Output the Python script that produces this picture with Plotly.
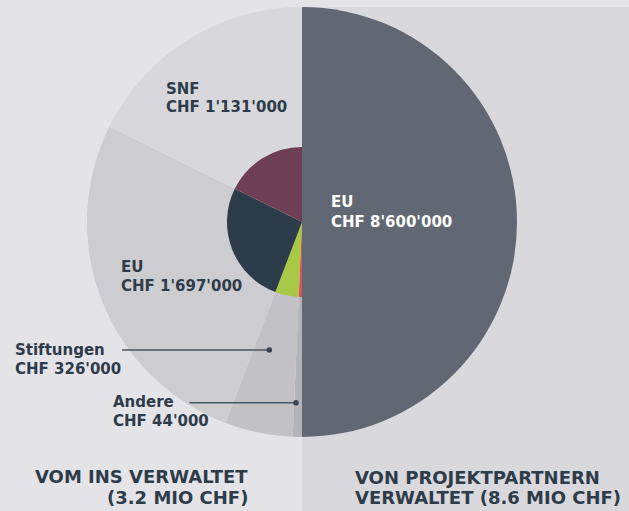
import plotly.graph_objects as go

# ---- data (CHF) ----
left_labels = ["Andere", "Stiftungen", "EU", "SNF"]        # clockwise from 6 o'clock
left_values = [44000, 326000, 1697000, 1131000]
right_label = "EU"
right_value = 8600000
left_title = ["VOM INS VERWALTET", "(3.2 MIO CHF)"]
right_title = ["VON PROJEKTPARTNERN", "VERWALTET (8.6 MIO CHF)"]

outer_colors = ["#b4b3b9", "#c2c1c6", "#cdccd1", "#d8d7dc"]
inner_colors = ["#e0505a", "#a8c946", "#2d3c4b", "#6d3e54"]
right_color = "#626873"
text_color = "#2e3c4a"

W, H = 629, 511
BG_LEFT, BG_RIGHT = "#e4e3e8", "#d9d8dd"
CX, CY, R_OUT, R_IN = 302, 222, 215, 75


def px(x):
    return x / W


def py(y):
    return 1 - y / H


def dom(r):
    return dict(x=[px(CX - r), px(CX + r)], y=[py(CY + r), py(CY - r)])


def chf(v):
    return "CHF " + f"{v:,}".replace(",", "'")


half = sum(left_values)  # each half of the circle shows its own total
vals = [half] + left_values
labs = [right_label] + left_labels

fig = go.Figure()
fig.add_trace(go.Pie(
    values=vals, labels=[f"{l} ({i})" for i, l in enumerate(labs)],
    domain=dom(R_OUT), sort=False, direction="clockwise", rotation=0,
    marker=dict(colors=[right_color] + outer_colors, line=dict(width=0)),
    textinfo="none", hoverinfo="skip", showlegend=False,
))
fig.add_trace(go.Pie(
    values=vals, labels=[f"i{l} ({i})" for i, l in enumerate(labs)],
    domain=dom(R_IN), sort=False, direction="clockwise", rotation=0,
    marker=dict(colors=["rgba(0,0,0,0)"] + inner_colors, line=dict(width=0)),
    textinfo="none", hoverinfo="skip", showlegend=False,
))

FONT = "DejaVu Sans"
ann = []


def line(text, x, y, color=text_color, size=15, anchor="left"):
    ann.append(dict(text=f"<b>{text}</b>", x=px(x), y=py(y), xref="paper", yref="paper",
                    xanchor=anchor, yanchor="middle", showarrow=False, borderpad=0,
                    font=dict(family=FONT, size=size, color=color)))


val = dict(zip(left_labels, left_values))
line("SNF", 165, 88.7)
line(chf(val["SNF"]), 165, 107.4)
line(right_label, 330, 202.3, color="white")
line(chf(right_value), 330, 221.5, color="white")
line("EU", 119.7, 267.2)
line(chf(val["EU"]), 119.7, 285.8)
line("Stiftungen", 14, 349.5)
line(chf(val["Stiftungen"]), 14, 368.6)
line("Andere", 112.3, 402.2)
line(chf(val["Andere"]), 112.3, 421.2)

line(left_title[0], 249, 476.8, size=18, anchor="right")
line(left_title[1], 249, 497.8, size=18, anchor="right")
line(right_title[0], 354, 477.3, size=18)
line(right_title[1], 354, 497.6, size=18)

shapes = [
    dict(type="rect", xref="paper", yref="paper", x0=px(302), x1=1, y0=0, y1=py(7),
         fillcolor=BG_RIGHT, line=dict(width=0), layer="below"),
]
for (x0, x1, y) in [(122, 269.3, 350), (189.5, 296, 402.7)]:
    shapes.append(dict(type="line", xref="paper", yref="paper", x0=px(x0), x1=px(x1),
                       y0=py(y), y1=py(y), line=dict(color="#4a5562", width=1.5)))
    shapes.append(dict(type="circle", xref="paper", yref="paper",
                       x0=px(x1 - 2.8), x1=px(x1 + 2.8), y0=py(y + 2.8), y1=py(y - 2.8),
                       fillcolor="#3a4554", line=dict(width=0)))

fig.update_layout(width=W, height=H, margin=dict(l=0, r=0, t=0, b=0),
                  paper_bgcolor=BG_LEFT, plot_bgcolor=BG_LEFT,
                  annotations=ann, shapes=shapes)
fig.write_html("out.html", config={"displayModeBar": False},
               post_script="document.body.style.margin='0';document.body.style.overflow='hidden';")
